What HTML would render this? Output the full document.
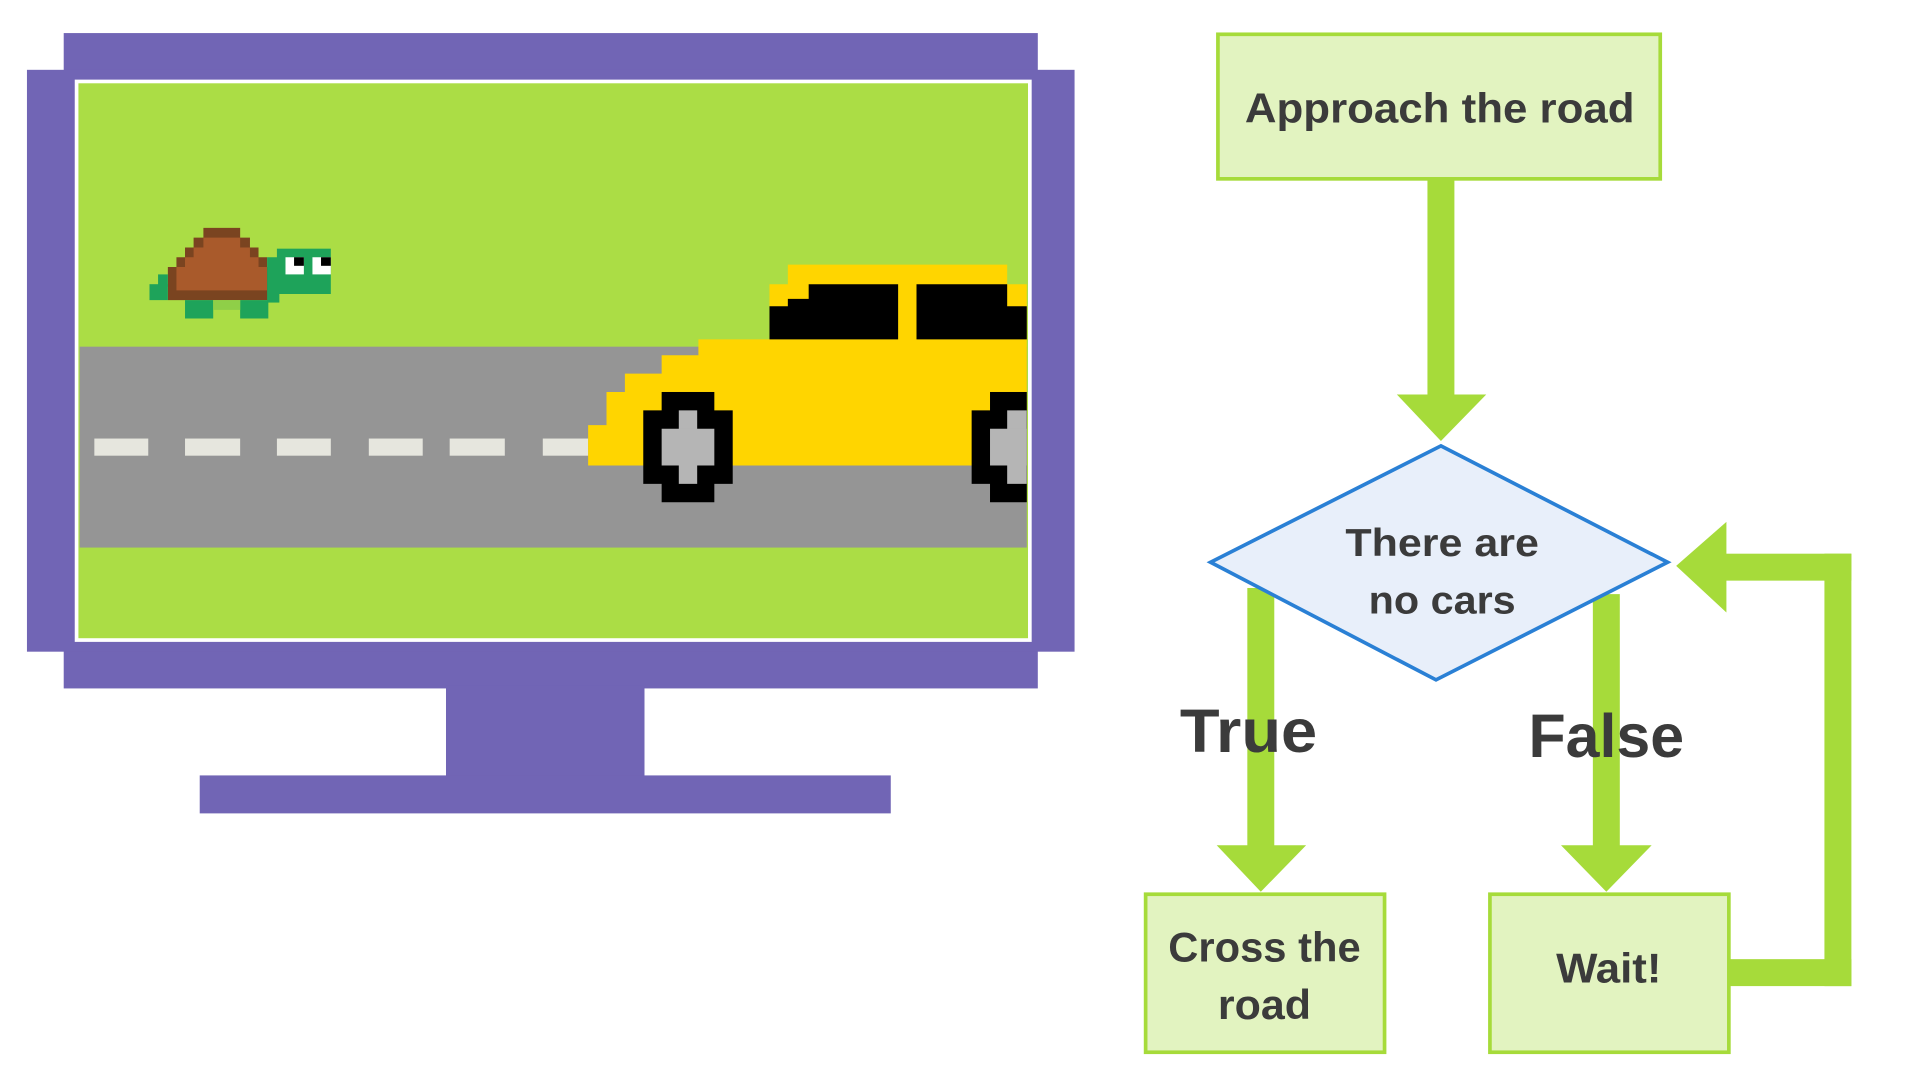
<!DOCTYPE html>
<html><head><meta charset="utf-8"><style>html,body{margin:0;padding:0;background:#fff;width:1920px;height:1089px;overflow:hidden}svg{display:block}text{font-family:"Liberation Sans",sans-serif;font-weight:bold;fill:#3b3b3b;text-anchor:middle}</style></head>
<body>
<svg width="1920" height="1089" viewBox="0 0 1567 889" preserveAspectRatio="none" xmlns="http://www.w3.org/2000/svg">
<rect width="1567" height="889" fill="#fff"/>
<g fill="#7165b5">
<rect x="52" y="27" width="795" height="535"/>
<rect x="22" y="57" width="855" height="475"/>
<rect x="364" y="560" width="162" height="75"/>
<rect x="163" y="633" width="564" height="31"/>
</g>
<rect x="61" y="65" width="781" height="459" fill="#ffffff"/>
<rect x="64" y="68" width="775" height="453" fill="#abdd45"/>
<rect x="65" y="283" width="773" height="164" fill="#959595"/>
<g fill="#e6e6de">
<rect x="77" y="358" width="44" height="14"/><rect x="151" y="358" width="45" height="14"/><rect x="226" y="358" width="44" height="14"/><rect x="301" y="358" width="44" height="14"/><rect x="367" y="358" width="45" height="14"/><rect x="443" y="358" width="37" height="14"/>
</g>
<polygon fill="#ffd500" points="643,216 822,216 822,232 838,232 838,380 480,380 480,347 495,347 495,320 510,320 510,305 540,305 540,290 570,290 570,277 628,277 628,232 643,232"/>
<polygon fill="#000" points="660,232 733,232 733,277 628,277 628,250 643,250 643,244 660,244"/>
<polygon fill="#000" points="748,232 822,232 822,250 838,250 838,277 748,277"/>
<g fill="#000"><rect x="540" y="320" width="43" height="90"/><rect x="525" y="335" width="73" height="60"/>
<rect x="808" y="320" width="30" height="90"/><rect x="793" y="335" width="45" height="60"/></g>
<g fill="#b5b5b5"><rect x="554" y="335" width="15" height="60"/><rect x="540" y="350" width="43" height="30"/>
<rect x="822" y="335" width="16" height="60"/><rect x="808" y="350" width="30" height="30"/></g>
<g>
<polygon fill="#7a4420" points="166,186 196,186 196,194 204,194 204,202 211,202 211,210 218,210 218,218 226,218 226,245 137,245 137,218 144,218 144,210 151,210 151,202 158,202 158,194 166,194"/>
<polygon fill="#a95a2b" points="166,194 196,194 196,202 204,202 204,210 211,210 211,218 218,218 218,237 144,237 144,218 151,218 151,210 158,210 158,202 166,202"/>
<rect x="226" y="203" width="44" height="37" fill="#1ea35a"/>
<rect x="218" y="210" width="10" height="37" fill="#1ea35a"/>
<rect x="122" y="232" width="15" height="13" fill="#1ea35a"/>
<rect x="129" y="224" width="8" height="10" fill="#1ea35a"/>
<rect x="151" y="245" width="23" height="15" fill="#1ea35a"/>
<rect x="196" y="245" width="23" height="15" fill="#1ea35a"/>
<rect x="174" y="245" width="22" height="8" fill="#8fcf48"/>
<rect x="233" y="210" width="15" height="14" fill="#fff"/><rect x="240" y="210" width="8" height="7" fill="#000"/>
<rect x="255" y="210" width="15" height="14" fill="#fff"/><rect x="262" y="210" width="8" height="7" fill="#000"/>
</g>
<g fill="#a6db3a">
<rect x="1165" y="146" width="22" height="178"/>
<polygon points="1140,322 1213,322 1176,360"/>
<rect x="1018" y="480" width="22" height="212"/>
<polygon points="993,690 1066,690 1029,728"/>
<rect x="1300" y="485" width="22" height="207"/>
<polygon points="1274,690 1348,690 1311,728"/>
<rect x="1411" y="783" width="100" height="22"/>
<rect x="1489" y="452" width="22" height="353"/>
<rect x="1405" y="452" width="106" height="22"/>
<polygon points="1409,426 1409,500 1368,462"/>
</g>
<rect x="994" y="28" width="361" height="118" fill="#e2f3c0" stroke="#a6db3a" stroke-width="3"/>
<text x="1175" y="100" font-size="34" textLength="318" lengthAdjust="spacingAndGlyphs">Approach the road</text>
<polygon points="1176,364 1361,459 1172,555 988,459" fill="#e8effa" stroke="#2a80d5" stroke-width="3"/>
<text x="1177" y="454" font-size="32" textLength="158" lengthAdjust="spacingAndGlyphs">There are</text>
<text x="1177" y="501" font-size="32" textLength="120" lengthAdjust="spacingAndGlyphs">no cars</text>
<text x="1019" y="614" font-size="50" textLength="112" lengthAdjust="spacingAndGlyphs">True</text>
<text x="1311" y="618" font-size="50" textLength="127" lengthAdjust="spacingAndGlyphs">False</text>
<rect x="935" y="730" width="195" height="129" fill="#e2f3c0" stroke="#a6db3a" stroke-width="3"/>
<text x="1032" y="785" font-size="34" textLength="157" lengthAdjust="spacingAndGlyphs">Cross the</text>
<text x="1032" y="832" font-size="34" textLength="76" lengthAdjust="spacingAndGlyphs">road</text>
<rect x="1216" y="730" width="195" height="129" fill="#e2f3c0" stroke="#a6db3a" stroke-width="3"/>
<text x="1313" y="802" font-size="34" textLength="86" lengthAdjust="spacingAndGlyphs">Wait!</text>
</svg>
</body></html>
